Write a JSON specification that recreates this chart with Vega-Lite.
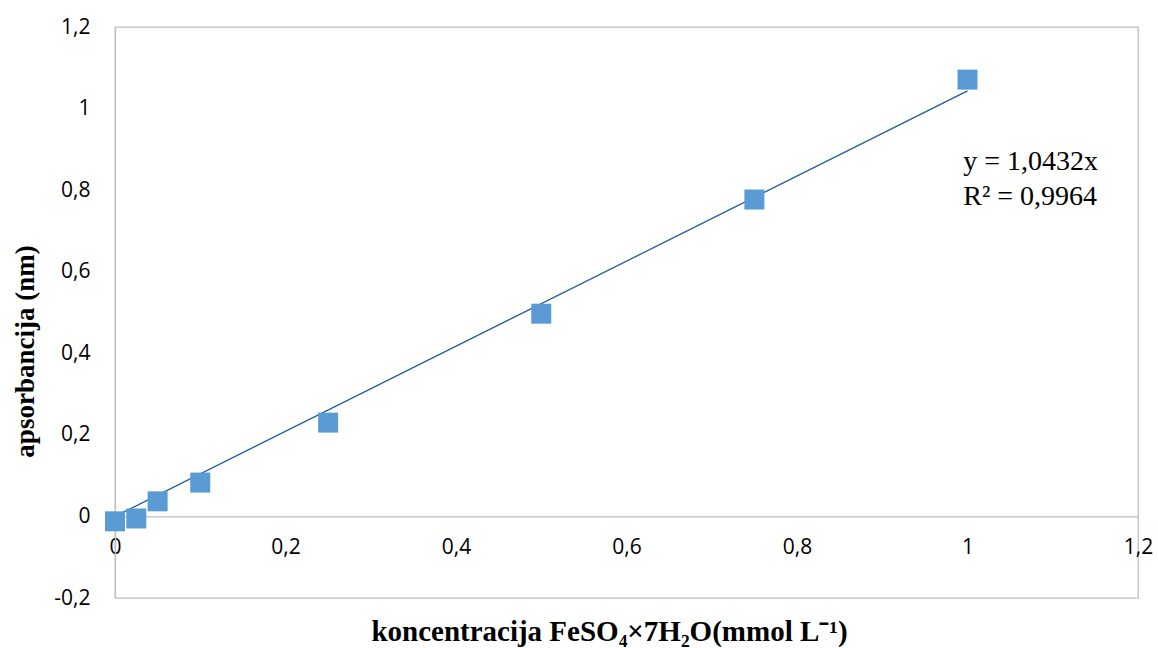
{
  "$schema": "https://vega.github.io/schema/vega-lite/v6.json",
  "width": 1023,
  "height": 571,
  "autosize": "none",
  "padding": {"left": 115, "top": 27, "right": 20, "bottom": 50},
  "background": "white",
  "config": {
    "view": {"stroke": "#BFBFBF", "strokeWidth": 1.3},
    "axis": {"grid": false, "ticks": false}
  },
  "datasets": {
    "points": [
      {"conc": 0, "abs": -0.012},
      {"conc": 0.025, "abs": -0.005},
      {"conc": 0.05, "abs": 0.037},
      {"conc": 0.1, "abs": 0.083},
      {"conc": 0.25, "abs": 0.23},
      {"conc": 0.5, "abs": 0.497},
      {"conc": 0.75, "abs": 0.777},
      {"conc": 1, "abs": 1.071}
    ],
    "trend": [
      {"conc": 0, "abs": 0},
      {"conc": 1, "abs": 1.0432}
    ],
    "labels": [
      {"conc": 0.995, "abs": 0.868, "text": "y = 1,0432x"},
      {"conc": 0.995, "abs": 0.784, "text": "R² = 0,9964"}
    ]
  },
  "layer": [
    {
      "data": {"name": "trend"},
      "mark": {"type": "line", "color": "#1F5C99", "strokeWidth": 1.3},
      "encoding": {
        "x": {"field": "conc", "type": "quantitative", "scale": {"domain": [0, 1.2], "nice": false, "zero": false},
          "axis": {
            "values": [0, 0.2, 0.4, 0.6, 0.8, 1, 1.2],
            "labelExpr": "replace(format(datum.value, '~g'), '.', ',')",
            "offset": -81.6,
            "domainColor": "#BFBFBF",
            "domainWidth": 1.3,
            "labelFont": "Open Sans",
            "labelFontSize": 21,
            "labelColor": "#000000",
            "labelPadding": 20,
            "labelFlush": false,
            "labelOverlap": false,
            "title": "koncentracija FeSO₄×7H₂O(mmol L⁻¹)",
            "titleFont": "Liberation Serif",
            "titleFontWeight": "bold",
            "titleFontSize": 29,
            "titleColor": "#000000",
            "titleBaseline": "middle",
            "titleAlign": "center",
            "titleX": 494,
            "titleY": 115
          }
        },
        "y": {"field": "abs", "type": "quantitative", "scale": {"domain": [-0.2, 1.2], "nice": false, "zero": false},
          "axis": {
            "values": [-0.2, 0, 0.2, 0.4, 0.6, 0.8, 1, 1.2],
            "labelExpr": "replace(replace(format(datum.value, '~g'), '.', ','), '−', '-')",
            "domainColor": "#BFBFBF",
            "domainWidth": 1.3,
            "labelFont": "Open Sans",
            "labelFontSize": 21,
            "labelColor": "#000000",
            "labelPadding": 25,
            "labelFlush": false,
            "labelOverlap": false,
            "title": "apsorbancija (nm)",
            "titleFont": "Liberation Serif",
            "titleFontWeight": "bold",
            "titleFontSize": 27,
            "titleColor": "#000000",
            "titleAngle": -90,
            "titleAlign": "center",
            "titleBaseline": "middle",
            "titleX": -90,
            "titleY": 324
          }
        }
      }
    },
    {
      "data": {"name": "points"},
      "mark": {"type": "square", "color": "#5B9BD5", "opacity": 1, "size": 400, "filled": true},
      "encoding": {
        "x": {"field": "conc", "type": "quantitative"},
        "y": {"field": "abs", "type": "quantitative"}
      }
    },
    {
      "data": {"name": "labels"},
      "mark": {"type": "text", "align": "left", "baseline": "middle", "font": "Liberation Serif", "fontSize": 28, "color": "#000000"},
      "encoding": {
        "x": {"field": "conc", "type": "quantitative"},
        "y": {"field": "abs", "type": "quantitative"},
        "text": {"field": "text"}
      }
    }
  ]
}
